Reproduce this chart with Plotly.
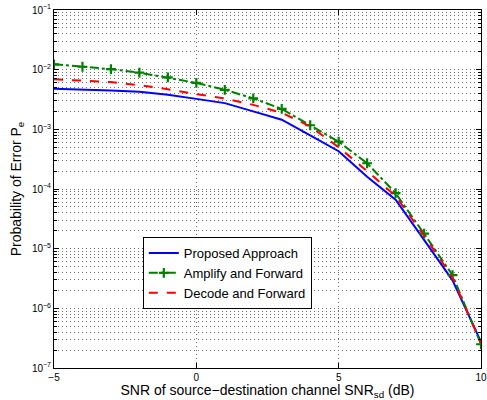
import plotly.graph_objects as go

snr_db = [-5, -4, -3, -2, -1, 0, 1, 2, 3, 4, 5, 6, 7, 8, 9, 10]
proposed = [4.81e-3, 4.68e-3, 4.47e-3, 4.27e-3, 3.80e-3, 3.24e-3, 2.75e-3, 2.0e-3,
            1.45e-3, 7.9e-4, 4.3e-4, 1.6e-4, 6.6e-5, 1.4e-5, 2.95e-6, 2.75e-7]
amplify = [1.23e-2, 1.12e-2, 1.02e-2, 8.9e-3, 7.4e-3, 6.0e-3, 4.6e-3, 3.3e-3,
           2.2e-3, 1.17e-3, 6.2e-4, 2.7e-4, 8.5e-5, 1.78e-5, 3.6e-6, 2.5e-7]
decode = [6.9e-3, 6.6e-3, 6.2e-3, 5.5e-3, 4.7e-3, 3.9e-3, 3.3e-3, 2.57e-3,
          1.9e-3, 1.12e-3, 5.0e-4, 2.0e-4, 7.6e-5, 1.66e-5, 3.3e-6, 2.6e-7]

x_ticks = [-5, 0, 5, 10]
x_tick_text = ["\u22125", "0", "5", "10"]
y_ticks = [1e-7, 1e-6, 1e-5, 1e-4, 1e-3, 1e-2, 1e-1]
y_tick_text = ["10<sup>\u22127</sup>", "10<sup>\u22126</sup>", "10<sup>\u22125</sup>",
               "10<sup>\u22124</sup>", "10<sup>\u22123</sup>", "10<sup>\u22122</sup>",
               "10<sup>\u22121</sup>"]

fig = go.Figure()
fig.add_trace(go.Scatter(x=snr_db, y=proposed, mode="lines", name="Proposed Approach",
                         line=dict(color="#0000ff", width=2)))
fig.add_trace(go.Scatter(x=snr_db, y=amplify, mode="lines+markers", name="Amplify and Forward",
                         line=dict(color="#008000", width=2, dash="dashdot"),
                         marker=dict(symbol="cross-thin", size=7,
                                     line=dict(color="#008000", width=2.2))))
fig.add_trace(go.Scatter(x=snr_db, y=decode, mode="lines", name="Decode and Forward",
                         line=dict(color="#ff0000", width=2, dash="dash")))

font = "Liberation Sans, Arial, sans-serif"
gcol = "#6f6f6f"
gdash = "1px,3px"
grid = dict(showgrid=True, gridcolor=gcol, griddash=gdash, gridwidth=1)

fig.update_layout(
    width=487, height=400,
    margin=dict(l=54, r=6, t=10, b=32),
    paper_bgcolor="white", plot_bgcolor="white",
    font=dict(family=font, size=10, color="black"),
    showlegend=True,
    legend=dict(x=0.208, y=0.366, xanchor="left", yanchor="top",
                bgcolor="white", bordercolor="black", borderwidth=1,
                font=dict(size=13, family=font), itemwidth=30,
                tracegroupgap=0),
)
fig.update_xaxes(range=[-5, 10], tickvals=x_ticks, ticktext=x_tick_text,
                 showline=True, linecolor="black", linewidth=1, mirror="allticks",
                 ticks="inside", ticklen=5, tickcolor="black",
                 zeroline=False, automargin=False, ticklabeloverflow="allow", **grid,
                 tickfont=dict(size=10),
                 title=dict(text="SNR of source\u2212destination channel SNR<sub>sd</sub> (dB)",
                            font=dict(size=14), standoff=3))
fig.update_yaxes(type="log", range=[-7, -1], tickvals=y_ticks, ticktext=y_tick_text,
                 showline=True, linecolor="black", linewidth=1, mirror="allticks",
                 ticks="inside", ticklen=5, tickcolor="black",
                 zeroline=False, automargin=False, ticklabeloverflow="allow", **grid,
                 minor=dict(dtick="D1", showgrid=True, gridcolor=gcol, griddash=gdash,
                            ticks="inside", ticklen=3, tickcolor="black"),
                 tickfont=dict(size=10),
                 title=dict(text="Probability of Error P<sub>e</sub>",
                            font=dict(size=14), standoff=6))

fig.write_html("out.html")
